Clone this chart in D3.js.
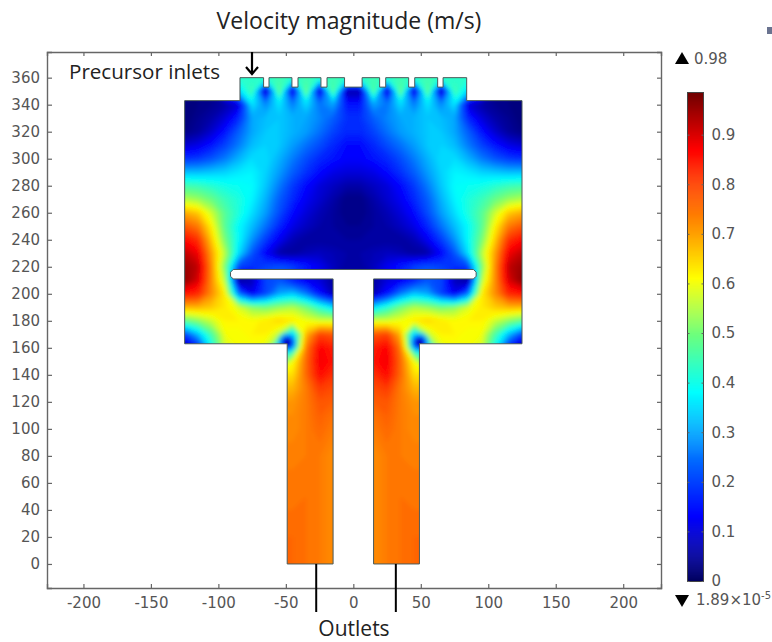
<!DOCTYPE html>
<html>
<head>
<meta charset="utf-8">
<script src="https://cdn.jsdelivr.net/npm/d3@7"></script>
<style>
    body { margin: 0; background: #fff; }
    svg { display: block; }
    .tick text { font-family: "DejaVu Sans", sans-serif; font-size: 15px; fill: #555; }
    .tick line, .domain { stroke: #666; }
    .note { font-family: "Open Sans", sans-serif; fill: #222; }
</style>
</head>
<body>
<script>
var _ = null;

// speed in m/s, one array per height y (mm)
// columns are x = -125, -115 ... 115, 125
var xNodes = d3.range(-125, 126, 10);
var row360 = [_,_,_,_,.42,.43,.42,.45,.42,.45,.42,.45,.42,.42,.45,.42,.45,.42,.45,.42,.43,.42,_,_,_,_];
var row350 = [_,_,_,_,.34,.46,.05,.50,.07,.51,.07,.49,.06,.06,.49,.07,.51,.07,.50,.05,.46,.34,_,_,_,_];
var row340 = [.02,.03,.04,.06,.10,.36,.27,.36,.26,.35,.25,.30,.15,.15,.30,.25,.35,.26,.36,.27,.36,.10,.06,.04,.03,.02];
var row330 = [.02,.04,.06,.10,.17,.30,.32,.33,.31,.30,.27,.23,.18,.18,.23,.27,.30,.31,.33,.32,.30,.17,.10,.06,.04,.02];
var row320 = [.03,.05,.09,.15,.23,.30,.33,.33,.31,.29,.25,.20,.17,.17,.20,.25,.29,.31,.33,.33,.30,.23,.15,.09,.05,.03];
var row310 = [.09,.11,.15,.20,.26,.32,.34,.33,.29,.25,.21,.17,.14,.14,.17,.21,.25,.29,.33,.34,.32,.26,.20,.15,.11,.09];
var row300 = [.18,.19,.22,.26,.31,.35,.35,.31,.26,.21,.17,.15,.13,.13,.15,.17,.21,.26,.31,.35,.35,.31,.26,.22,.19,.18];
var row290 = [.32,.32,.33,.34,.36,.37,.34,.29,.23,.18,.14,.11,.10,.10,.11,.14,.18,.23,.29,.34,.37,.36,.34,.33,.32,.32];
var row280 = [.45,.44,.42,.40,.39,.38,.33,.26,.19,.14,.10,.08,.06,.06,.08,.10,.14,.19,.26,.33,.38,.39,.40,.42,.44,.45];
var row270 = [.55,.53,.49,.44,.41,.37,.31,.23,.17,.12,.09,.06,.03,.03,.06,.09,.12,.17,.23,.31,.37,.41,.44,.49,.53,.55];
var row260 = [.69,.66,.57,.47,.41,.35,.29,.21,.14,.10,.07,.05,.03,.03,.05,.07,.10,.14,.21,.29,.35,.41,.47,.57,.66,.69];
var row250 = [.78,.74,.62,.47,.38,.32,.25,.17,.11,.08,.06,.05,.04,.04,.05,.06,.08,.11,.17,.25,.32,.38,.47,.62,.74,.78];
var row240 = [.86,.82,.66,.50,.38,.28,.19,.12,.07,.05,.05,.05,.05,.05,.05,.05,.05,.07,.12,.19,.28,.38,.50,.66,.82,.86];
var row230 = [.92,.88,.70,.55,.35,.22,.13,.06,.05,.07,.08,.07,.06,.06,.07,.08,.07,.05,.06,.13,.22,.35,.55,.70,.88,.92];
var row220 = [.95,.92,.72,.50,.20,.18,.20,.22,.20,.16,.12,.08,.05,.05,.08,.12,.16,.20,.22,.20,.18,.20,.50,.72,.92,.95];
var row210 = [.96,.90,.72,.55,.04,.07,.20,.22,.16,.12,.10,.05,_,_,.05,.10,.12,.16,.22,.20,.07,.04,.55,.72,.90,.96];
var row200 = [.85,.83,.72,.62,.25,.12,.20,.30,.33,.26,.15,.07,_,_,.07,.15,.26,.33,.30,.20,.12,.25,.62,.72,.83,.85];
var row190 = [.68,.68,.66,.63,.58,.52,.50,.53,.55,.50,.42,.35,_,_,.35,.42,.50,.55,.53,.50,.52,.58,.63,.66,.68,.68];
var row180 = [.48,.52,.57,.62,.62,.61,.63,.65,.63,.60,.58,.58,_,_,.58,.58,.60,.63,.65,.63,.61,.62,.62,.57,.52,.48];
var row170 = [.20,.32,.46,.60,.60,.62,.62,.56,.32,.68,.80,.78,_,_,.78,.80,.68,.32,.56,.62,.62,.60,.60,.46,.32,.20];
var row160 = [.03,.15,.38,.58,.60,.60,.58,.30,.36,.74,.87,.84,_,_,.84,.87,.74,.36,.30,.58,.60,.60,.58,.38,.15,.03];
var row150 = [_,_,_,_,_,_,_,_,.60,.76,.88,.85,_,_,.85,.88,.76,.60,_,_,_,_,_,_,_,_];
var row140 = [_,_,_,_,_,_,_,_,.64,.76,.86,.82,_,_,.82,.86,.76,.64,_,_,_,_,_,_,_,_];
var row130 = [_,_,_,_,_,_,_,_,.68,.74,.81,.79,_,_,.79,.81,.74,.68,_,_,_,_,_,_,_,_];
var row120 = [_,_,_,_,_,_,_,_,.71,.74,.78,.77,_,_,.77,.78,.74,.71,_,_,_,_,_,_,_,_];
var row110 = [_,_,_,_,_,_,_,_,.72,.74,.77,.75,_,_,.75,.77,.74,.72,_,_,_,_,_,_,_,_];
var row100 = [_,_,_,_,_,_,_,_,.72,.74,.76,.74,_,_,.74,.76,.74,.72,_,_,_,_,_,_,_,_];
var row90 = [_,_,_,_,_,_,_,_,.73,.74,.75,.73,_,_,.73,.75,.74,.73,_,_,_,_,_,_,_,_];
var row80 = [_,_,_,_,_,_,_,_,.73,.74,.74,.72,_,_,.72,.74,.74,.73,_,_,_,_,_,_,_,_];
var row70 = [_,_,_,_,_,_,_,_,.74,.74,.74,.72,_,_,.72,.74,.74,.74,_,_,_,_,_,_,_,_];
var row60 = [_,_,_,_,_,_,_,_,.74,.74,.74,.72,_,_,.72,.74,.74,.74,_,_,_,_,_,_,_,_];
var row50 = [_,_,_,_,_,_,_,_,.74,.75,.74,.72,_,_,.72,.74,.75,.74,_,_,_,_,_,_,_,_];
var row40 = [_,_,_,_,_,_,_,_,.75,.75,.74,.72,_,_,.72,.74,.75,.75,_,_,_,_,_,_,_,_];
var row30 = [_,_,_,_,_,_,_,_,.75,.75,.74,.72,_,_,.72,.74,.75,.75,_,_,_,_,_,_,_,_];
var row20 = [_,_,_,_,_,_,_,_,.76,.75,.74,.72,_,_,.72,.74,.75,.76,_,_,_,_,_,_,_,_];
var row10 = [_,_,_,_,_,_,_,_,.76,.75,.74,.72,_,_,.72,.74,.75,.76,_,_,_,_,_,_,_,_];
var row0 = [_,_,_,_,_,_,_,_,.76,.75,.74,.72,_,_,.72,.74,.75,.76,_,_,_,_,_,_,_,_];

var rows = [row360, row350, row340, row330, row320, row310, row300, row290, row280, row270, row260, row250,
    row240, row230, row220, row210, row200, row190, row180, row170, row160, row150, row140, row130, row120,
    row110, row100, row90, row80, row70, row60, row50, row40, row30, row20, row10, row0];

// outline of the reactor, walked clockwise from the lower left corner
var wallX = [-125, -49, -49, -15, -15, -89, -91, -91, -89, 89, 91, 91, 89, 15, 15, 49, 49, 125, 125, 84, 84, 66.5, 66.5, 62.5, 62.5, 45.5, 45.5, 41, 41, 24, 24, 19.5, 19.5, 6.5,
    6.5, -6.5, -6.5, -19.5, -19.5, -24, -24, -41, -41, -45.5, -45.5, -62.5, -62.5, -66.5, -66.5, -84, -84, -125];
var wallY = [163, 163, 0, 0, 211, 211, 213, 216, 218, 218, 216, 213, 211, 211, 0, 0, 163, 163, 343, 343, 360, 360, 353, 353, 360, 360, 353, 353, 360, 360, 353, 353, 360, 360,
    353, 353, 360, 360, 353, 353, 360, 360, 353, 353, 360, 360, 353, 353, 360, 360, 343, 343];

// stagnation points behind the corners
var spotX = [-49, 49];
var spotY = [164, 164];

var xTicks = [-200, -150, -100, -50, 0, 50, 100, 150, 200];
var yTicks = d3.range(0, 361, 20);
var barTicks = [0, 0.1, 0.2, 0.3, 0.4, 0.5, 0.6, 0.7, 0.8, 0.9];
var colorStops = [0, 0.13, 0.25, 0.38, 0.5, 0.61, 0.7, 0.87, 0.984];
var colorValues = ["#00005f", "#0000ff", "#0070ff", "#00ffff", "#70ff78", "#ffff00", "#ffa000", "#ff0000", "#700000"];

var width = 772;
var height = 642;

var svg = d3.select("body")
    .append("svg")
    .attr("width", width)
    .attr("height", height);

var xscale = d3.scaleLinear().domain([-227, 228]).range([47, 661]);
var yscale = d3.scaleLinear().domain([-17.8, 379]).range([588, 52]);
var color = d3.scaleLinear().domain(colorStops).range(colorValues).clamp(true);

// grid with one spare node round the edge so the field runs past the walls before clipping
var nx = xNodes.length + 2;
var ny = rows.length + 2;
var grid = new Array(nx * ny).fill(null);
rows.forEach(function (row, j) {
    row.forEach(function (v, i) {
        grid[(j + 1) * nx + i + 1] = v;
    });
});

// empty nodes take the mean of their filled neighbours
var missing = true;
while (missing) {
    missing = false;
    var next = grid.slice();
    for (var j = 0; j < ny; j++) {
        for (var i = 0; i < nx; i++) {
            if (grid[j * nx + i] !== null) continue;
            var near = [];
            if (i > 0) near.push(grid[j * nx + i - 1]);
            if (i < nx - 1) near.push(grid[j * nx + i + 1]);
            if (j > 0) near.push(grid[(j - 1) * nx + i]);
            if (j < ny - 1) near.push(grid[(j + 1) * nx + i]);
            near = near.filter(function (v) { return v !== null; });
            if (near.length) next[j * nx + i] = d3.mean(near);
            else missing = true;
        }
    }
    grid = next;
}

var gridX = d3.scaleLinear().domain([0.5, nx - 0.5]).range([xscale(-135), xscale(135)]);
var gridY = d3.scaleLinear().domain([0.5, ny - 0.5]).range([yscale(370), yscale(-10)]);
var contourPath = d3.geoPath(d3.geoTransform({
    point: function (x, y) { this.stream.point(gridX(x), gridY(y)); }
}));

var wallLine = d3.line()
    .x(function (d) { return xscale(d[0]); })
    .y(function (d) { return yscale(d[1]); });
var wall = wallLine(d3.zip(wallX, wallY)) + "Z";

var defs = svg.append("defs");
defs.append("clipPath").attr("id", "inside").append("path").attr("d", wall);
defs.append("filter").attr("id", "soft")
    .attr("x", "-5%").attr("y", "-5%").attr("width", "110%").attr("height", "110%")
    .append("feGaussianBlur").attr("stdDeviation", 2);

var spotGrad = defs.append("radialGradient").attr("id", "spot");
var spotStops = [[0, "#00005f", 1], [0.35, "#0000ff", 1], [0.65, "#00a0ff", 0.8], [1, "#00ffff", 0]];
spotStops.forEach(function (s) {
    spotGrad.append("stop").attr("offset", s[0]).attr("stop-color", s[1]).attr("stop-opacity", s[2]);
});

// filled speed field
var thresholds = d3.range(0, 0.98, 0.01);
var field = svg.append("g").attr("clip-path", "url(#inside)").append("g").attr("filter", "url(#soft)");
field.selectAll("path")
    .data(d3.contours().size([nx, ny]).thresholds(thresholds)(grid))
    .enter()
    .append("path")
    .attr("d", contourPath)
    .attr("fill", function (d) { return color(d.value + 0.005); });

field.selectAll("circle")
    .data(d3.zip(spotX, spotY))
    .enter()
    .append("circle")
    .attr("cx", function (d) { return xscale(d[0]); })
    .attr("cy", function (d) { return yscale(d[1]); })
    .attr("r", 12)
    .attr("fill", "url(#spot)");

svg.append("path")
    .attr("d", wall)
    .attr("fill", "none")
    .attr("stroke", "#4a5a5a")
    .attr("stroke-width", 1);

// frame, ticks point inwards on all four sides
var x_axis = d3.axisBottom(xscale).tickValues(xTicks).tickSize(-4).tickPadding(9).tickFormat(String);
var y_axis = d3.axisLeft(yscale).tickValues(yTicks).tickSize(-5).tickPadding(7);
var xTop = d3.axisTop(xscale).tickValues(xTicks).tickSize(-4).tickFormat("");
var yRight = d3.axisRight(yscale).tickValues(yTicks).tickSize(-4).tickFormat("");

[[x_axis, 0, 588], [y_axis, 47, 0], [xTop, 0, 52], [yRight, 661, 0]].forEach(function (a) {
    var g = svg.append("g").attr("transform", "translate(" + a[1] + "," + a[2] + ")").call(a[0]);
    g.selectAll(".domain").attr("stroke-width", 1.4);
    g.selectAll(".tick line").attr("stroke-width", 1.2);
});

// colour bar
var barScale = d3.scaleLinear().domain([0, 0.984]).range([581, 93]);
svg.append("g").selectAll("rect")
    .data(d3.range(0, 0.984, 0.002))
    .enter()
    .append("rect")
    .attr("x", 688)
    .attr("width", 15)
    .attr("y", function (d) { return barScale(d + 0.002); })
    .attr("height", function (d) { return barScale(d) - barScale(d + 0.002) + 0.5; })
    .attr("fill", function (d) { return color(d); });
svg.append("rect")
    .attr("x", 687.5).attr("y", 92.5).attr("width", 16).attr("height", 489)
    .attr("fill", "none").attr("stroke", "#444").attr("stroke-width", 1);

var barRight = d3.axisRight(barScale).tickValues(barTicks).tickSize(-2).tickPadding(8).tickFormat(function (d) { return d === 0 ? "0" : d3.format(".1f")(d); });
var barLeft = d3.axisLeft(barScale).tickValues(barTicks).tickSize(-2).tickFormat("");
var gr = svg.append("g").attr("transform", "translate(703.5,0)").call(barRight);
var gl = svg.append("g").attr("transform", "translate(687.5,0)").call(barLeft);
gr.select(".domain").remove();
gl.select(".domain").remove();
gr.selectAll(".tick line").attr("stroke", "#333");
gl.selectAll(".tick line").attr("stroke", "#333");

// max and min markers
var tri = d3.symbol().type(d3.symbolTriangle).size(85);
svg.append("path").attr("d", tri).attr("fill", "#000").attr("transform", "translate(682,60)");
svg.append("path").attr("d", tri).attr("fill", "#000").attr("transform", "translate(682,599) rotate(180)");
svg.append("text").attr("x", 694).attr("y", 64)
    .style("font-family", "DejaVu Sans").style("font-size", "15px").style("fill", "#555").text("0.98");
var minLabel = svg.append("text").attr("x", 696).attr("y", 605)
    .style("font-family", "DejaVu Sans").style("font-size", "15px").style("fill", "#555");
minLabel.append("tspan").text("1.89×10");
minLabel.append("tspan").attr("dy", -6).style("font-size", "10px").text("-5");

// stray logo corner at the top right of the screenshot
svg.append("rect").attr("x", 767).attr("y", 27).attr("width", 5).attr("height", 7).attr("fill", "#6a7390");

// titles and arrows
svg.append("text").attr("class", "note").attr("x", 349).attr("y", 29).attr("text-anchor", "middle")
    .style("font-size", "23px").text("Velocity magnitude (m/s)");
svg.append("text").attr("class", "note").attr("x", 69).attr("y", 79)
    .style("font-size", "20.6px").text("Precursor inlets");
svg.append("text").attr("class", "note").attr("x", 354).attr("y", 636).attr("text-anchor", "middle")
    .style("font-size", "21px").text("Outlets");

svg.append("path")
    .attr("d", "M252,52V74M246,67L252,74L258,67")
    .attr("fill", "none").attr("stroke", "#000").attr("stroke-width", 2.2);
[-27.5, 31.5].forEach(function (d) {
    svg.append("line")
        .attr("x1", xscale(d)).attr("x2", xscale(d))
        .attr("y1", yscale(0)).attr("y2", 612)
        .attr("stroke", "#000").attr("stroke-width", 2);
});
</script>
</body>
</html>
